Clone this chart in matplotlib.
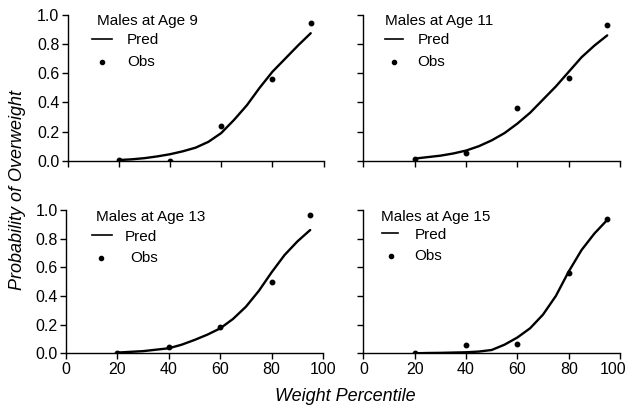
import matplotlib
matplotlib.use("Agg")
import matplotlib.pyplot as plt
import matplotlib.transforms as mtransforms

plt.rcParams['font.family'] = ['Liberation Sans', 'DejaVu Sans']

# ---- data ----
titles = ["Males at Age 9", "Males at Age 11", "Males at Age 13", "Males at Age 15"]
obs_x = [20, 40, 60, 80, 95]
obs_9 = [0.005, 0.0, 0.24, 0.56, 0.943]
obs_11 = [0.015, 0.055, 0.36, 0.565, 0.93]
obs_13 = [0.005, 0.046, 0.186, 0.50, 0.965]
obs_15 = [0.0, 0.058, 0.065, 0.558, 0.94]

pred_x = [20, 25, 30, 35, 40, 45, 50, 55, 60, 65, 70, 75, 80, 85, 90, 95]
pred_9 = [0.005, 0.01, 0.018, 0.03, 0.045, 0.065, 0.09, 0.13, 0.19, 0.28, 0.38, 0.50, 0.61, 0.70, 0.79, 0.875]
pred_11 = [0.015, 0.025, 0.035, 0.05, 0.07, 0.10, 0.14, 0.19, 0.255, 0.33, 0.42, 0.51, 0.61, 0.71, 0.79, 0.86]
pred_13 = [0.005, 0.01, 0.015, 0.025, 0.035, 0.06, 0.093, 0.13, 0.174, 0.24, 0.325, 0.435, 0.565, 0.685, 0.78, 0.86]
pred_15 = [0.0, 0.002, 0.003, 0.005, 0.007, 0.012, 0.023, 0.06, 0.11, 0.175, 0.27, 0.40, 0.57, 0.72, 0.835, 0.93]

obs_all = [obs_9, obs_11, obs_13, obs_15]
pred_all = [pred_9, pred_11, pred_13, pred_15]

x_ticks = [0, 20, 40, 60, 80, 100]
y_ticks = [0.0, 0.2, 0.4, 0.6, 0.8, 1.0]
y_ticklabels = ["0.0", "0.2", "0.4", "0.6", "0.8", "1.0"]

# ---- layout ----
fig = plt.figure(figsize=(6.3, 4.05), dpi=100)
rects = [
    [0.1075, 0.603, 0.406, 0.360],
    [0.5767, 0.603, 0.4075, 0.360],
    [0.1048, 0.1277, 0.408, 0.354],
    [0.5767, 0.1277, 0.4075, 0.354],
]
# legend layout per panel: title_x, line_x0, line_x1, text_x, dot_x, obs_text_x, ys
leg = [
    (0.115, 0.095, 0.173, 0.232, 0.134, 0.232, (0.96, 0.825, 0.68)),
    (0.085, 0.085, 0.154, 0.213, 0.120, 0.210, (0.96, 0.825, 0.68)),
    (0.116, 0.101, 0.179, 0.230, 0.136, 0.249, (0.953, 0.814, 0.668)),
    (0.070, 0.072, 0.136, 0.200, 0.107, 0.200, (0.953, 0.826, 0.68)),
]

for i in range(4):
    ax = fig.add_axes(rects[i])
    ax.plot(pred_x, pred_all[i], color='black', lw=1.7, solid_capstyle='round',
            solid_joinstyle='round')
    ax.plot(obs_x, obs_all[i], linestyle='none', marker='o', ms=3.2, color='black')
    ax.set_xlim(0, 100)
    ax.set_ylim(0, 1.0)
    ax.spines['top'].set_visible(False)
    ax.spines['right'].set_visible(False)
    for s in ('left', 'bottom'):
        ax.spines[s].set_linewidth(1.0)
    ax.set_xticks(x_ticks)
    ax.set_yticks(y_ticks)
    ax.tick_params(direction='out', length=4, width=1, labelsize=11.5, pad=2)
    if i in (0, 2):
        ax.set_yticklabels(y_ticklabels)
    else:
        ax.set_yticklabels([])
    if i in (2, 3):
        ax.set_xticklabels([str(v) for v in x_ticks])
    else:
        ax.set_xticklabels([])
    if i == 3:
        last = ax.get_xticklabels()[-1]
        offset = mtransforms.ScaledTranslation(-5 / 72, 0, fig.dpi_scale_trans)
        last.set_transform(last.get_transform() + offset)
    tx, lx0, lx1, ptx, dx, otx, ys = leg[i]
    ax.text(tx, ys[0], titles[i], transform=ax.transAxes, fontsize=11, va='center', ha='left')
    ax.plot([lx0, lx1], [ys[1] + 0.012, ys[1] + 0.012], transform=ax.transAxes, color='black', lw=1.2, clip_on=False)
    ax.text(ptx, ys[1], "Pred", transform=ax.transAxes, fontsize=11, va='center', ha='left')
    ax.plot([dx], [ys[2]], transform=ax.transAxes, marker='o', ms=3.0, color='black', clip_on=False)
    ax.text(otx, ys[2], "Obs", transform=ax.transAxes, fontsize=11, va='center', ha='left')

fig.text(0.028, 0.53, "Probability of Overweight", rotation=90, fontsize=13, style='italic',
         va='center', ha='center')
fig.text(0.548, 0.022, "Weight Percentile", fontsize=13, style='italic', va='center', ha='center')

fig.savefig("out.png", dpi=100)
